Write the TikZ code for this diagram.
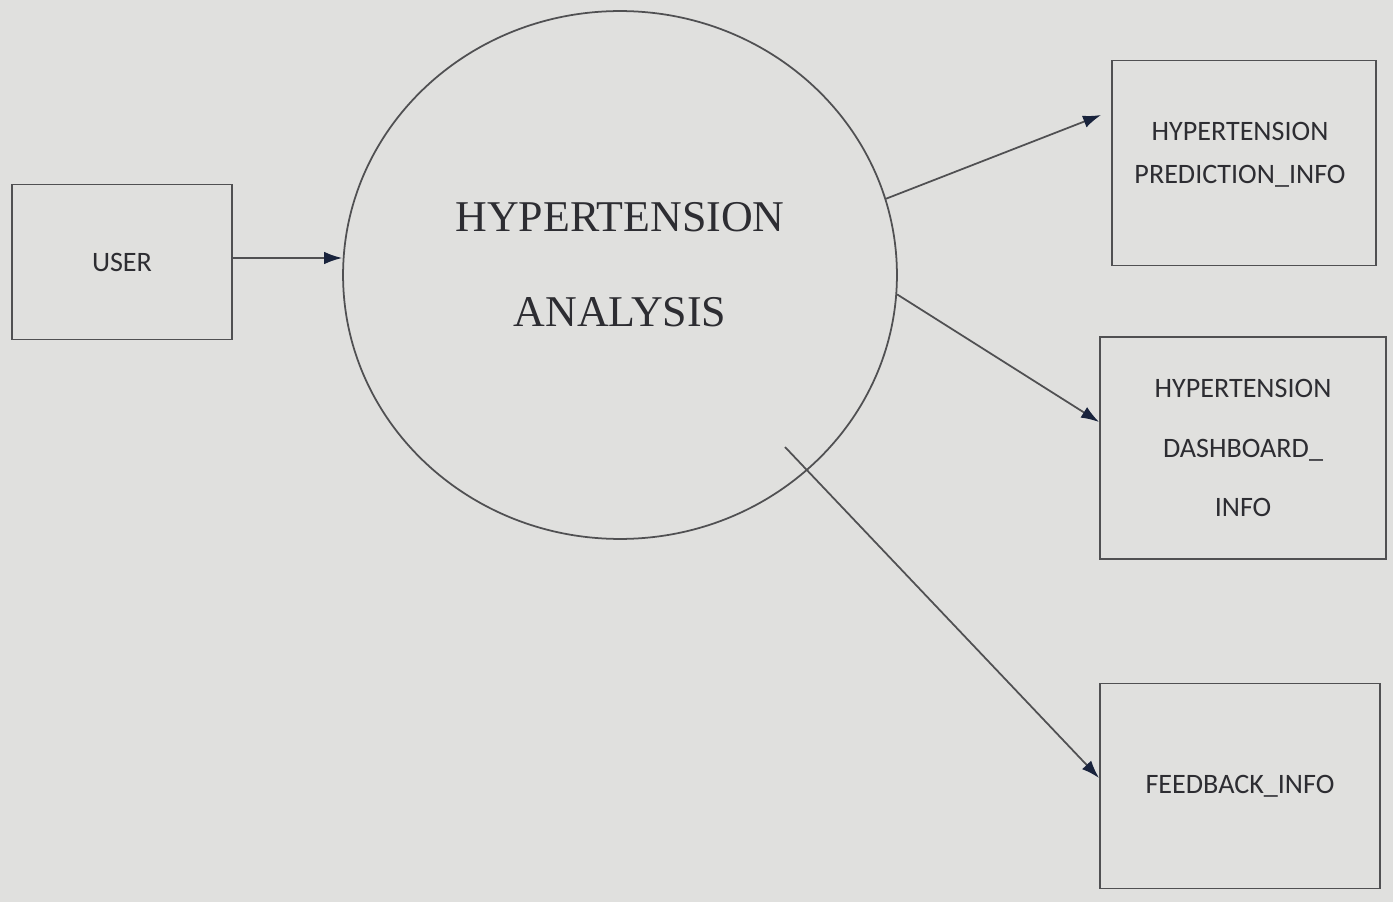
\documentclass[tikz,border=0pt]{standalone}
\usepackage{fontspec}
\setmainfont{Liberation Serif}
\newfontfamily\boxfont{Carlito}
\usetikzlibrary{arrows.meta,shapes.geometric,calc}
\definecolor{paper}{RGB}{224,224,222}
\definecolor{ink}{RGB}{80,80,82}
\definecolor{txt}{RGB}{45,45,50}
\definecolor{tip}{RGB}{25,35,60}
\tikzset{
  databox/.style={draw=ink, line width=1.1pt, minimum width=#1, inner sep=0pt,
    font=\boxfont\fontsize{16}{34}\selectfont, text=txt, align=center},
  boxtext/.style={font=\boxfont\fontsize{16}{24.4}\selectfont, text=txt, align=center},
  proc/.style={draw=ink, line width=1pt, ellipse, inner sep=0pt},
  proctext/.style={font=\fontsize{25}{54}\selectfont, text=txt, align=center},
  flow/.style={draw=ink, line width=1pt, -{Latex[length=3.6mm,width=2.5mm,color=tip]}}
}
\begin{document}
\begin{tikzpicture}[x=0.02cm,y=-0.02cm]
  \fill[paper] (0,0) rectangle (1393,902);
  \useasboundingbox (0,0) rectangle (1393,902);

  \node[proc, minimum width=11.08cm, minimum height=10.56cm] (c) at (620,275) {};
  \node[proctext] (ct) at (620,265) {HYPERTENSION\\ANALYSIS};

  \node[databox=4.4cm, minimum height=3.1cm] (u) at (122,262) {USER};
  \node[databox=5.28cm, minimum height=4.1cm] (b1) at (1244,163) {};
  \node[boxtext] (b1t) at (1240,155) {HYPERTENSION\\PREDICTION\_INFO};
  \node[databox=5.72cm, minimum height=4.44cm] (b2) at (1243,448)
     {HYPERTENSION\\DASHBOARD\_\\INFO};
  \node[databox=5.6cm, minimum height=4.1cm] (b3) at (1240,786) {FEEDBACK\_INFO};

  \coordinate (s3) at (785,447);

  \draw[flow] (u.east |- 0,258) -- (c.west |- 0,258);
  \draw[flow] (c.16.4) -- ($(b1.west |- 0,115)+(-10,0)$);
  \draw[flow] (c.-4) -- (b2.west |- 0,422);
  \draw[flow] (s3) -- (b3.west |- 0,778);
\end{tikzpicture}
\end{document}
